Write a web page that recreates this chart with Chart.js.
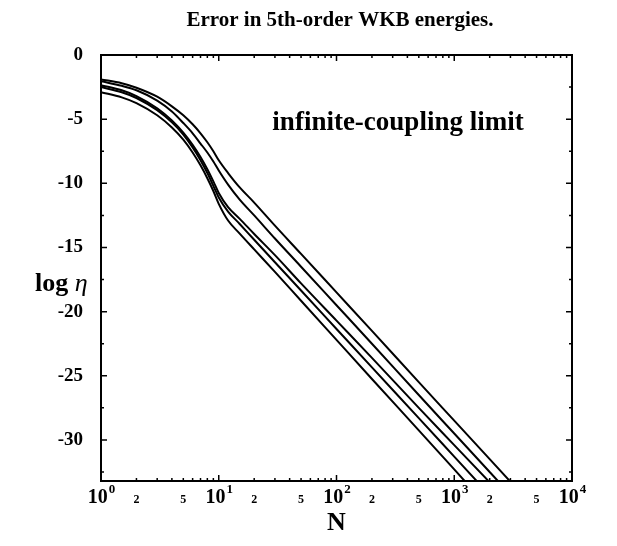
<!DOCTYPE html>
<html>
<head>
<meta charset="utf-8">
<script src="https://cdn.jsdelivr.net/npm/chart.js@4/dist/chart.umd.min.js"></script>
<style>
    html, body { margin: 0; padding: 0; background: #fff; }
</style>
</head>
<body>
<canvas id="wkbChart" width="617" height="546"></canvas>
<script>
// =========================
// DATA
// =========================
const nValues = [1, 1.5, 2, 3, 4, 5, 6, 7, 8, 9, 10, 12, 15, 20, 30, 50, 100, 200, 500, 1000, 2000, 4000];

const curveA = [-1.9, -2.2, -2.55, -3.25, -4.0, -4.7, -5.4, -6.1, -6.8, -7.5, -8.2, -9.2, -10.3, -11.5, -13.3, -15.5, -18.5, -21.5, -25.5, -28.5, -31.5, -34.5];
const curveB = [-2.05, -2.4, -2.75, -3.55, -4.4, -5.3, -6.1, -6.9, -7.6, -8.3, -9.0, -10.1, -11.25, -12.5, -14.3, -16.5, -19.5, -22.5, -26.5, -29.5, -32.5, -35.5];
const curveC = [-2.35, -2.75, -3.2, -4.15, -5.1, -6.05, -7.0, -7.95, -8.9, -9.85, -10.75, -11.85, -12.75, -13.95, -15.6, -17.8, -20.7, -23.6, -27.5, -30.4, -33.3, -36.2];
const curveD = [-2.5, -2.9, -3.35, -4.3, -5.25, -6.2, -7.2, -8.2, -9.2, -10.2, -11.1, -12.2, -13.15, -14.4, -16.15, -18.35, -21.35, -24.35, -28.3, -31.3, -34.3, -37.3];
const curveE = [-2.9, -3.3, -3.75, -4.7, -5.65, -6.6, -7.6, -8.6, -9.6, -10.6, -11.6, -12.9, -13.9, -15.15, -16.9, -19.15, -22.2, -25.25, -29.25, -32.3, -35.35, -38.4];

const xTickValues = [1, 2, 5, 10, 20, 50, 100, 200, 500, 1000, 2000, 5000, 10000];
const xTickLabels = ['10|0', '2', '5', '10|1', '2', '5', '10|2', '2', '5', '10|3', '2', '5', '10|4'];
const xMinorMultipliers = [2, 3, 4, 5, 6, 7, 8, 9];
const yTickValues = [0, -5, -10, -15, -20, -25, -30];
const yMinorValues = [-2.5, -7.5, -12.5, -17.5, -22.5, -27.5, -32.5];

const SERIF = "'Liberation Serif', 'DejaVu Serif', serif";

function toPoints(values) {
    return nValues.map(function (n, i) { return { x: n, y: values[i] }; });
}

// =========================
// DECORATIONS (frame, inward ticks, texts)
// =========================
const decorations = {
    id: 'decorations',
    afterDraw: function (chart) {
        const ctx = chart.ctx;
        const area = chart.chartArea;
        const xs = chart.scales.x;
        const ys = chart.scales.y;

        ctx.save();
        ctx.strokeStyle = '#000';
        ctx.fillStyle = '#000';

        // frame
        ctx.lineWidth = 2;
        ctx.strokeRect(area.left, area.top, area.right - area.left, area.bottom - area.top);

        // x ticks (bottom + top)
        ctx.lineWidth = 1.5;
        for (let p = 0; p < 4; p++) {
            const base = Math.pow(10, p);
            xMinorMultipliers.forEach(function (m) {
                const px = xs.getPixelForValue(base * m);
                ctx.beginPath();
                ctx.moveTo(px, area.bottom); ctx.lineTo(px, area.bottom - 3);
                ctx.moveTo(px, area.top); ctx.lineTo(px, area.top + 3);
                ctx.stroke();
            });
        }
        for (let p = 0; p <= 4; p++) {
            const px = xs.getPixelForValue(Math.pow(10, p));
            ctx.beginPath();
            ctx.moveTo(px, area.bottom); ctx.lineTo(px, area.bottom - 6);
            ctx.moveTo(px, area.top); ctx.lineTo(px, area.top + 6);
            ctx.stroke();
        }

        // y ticks (left + right)
        yTickValues.forEach(function (v) {
            const py = ys.getPixelForValue(v);
            ctx.beginPath();
            ctx.moveTo(area.left, py); ctx.lineTo(area.left + 6, py);
            ctx.moveTo(area.right, py); ctx.lineTo(area.right - 6, py);
            ctx.stroke();
        });
        yMinorValues.forEach(function (v) {
            const py = ys.getPixelForValue(v);
            ctx.beginPath();
            ctx.moveTo(area.left, py); ctx.lineTo(area.left + 3, py);
            ctx.moveTo(area.right, py); ctx.lineTo(area.right - 3, py);
            ctx.stroke();
        });

        // x tick labels, with superscripts
        ctx.textBaseline = 'alphabetic';
        const labelBase = area.bottom + 22;
        xTickValues.forEach(function (v, i) {
            const px = xs.getPixelForValue(v);
            const parts = xTickLabels[i].split('|');
            if (parts.length === 2) {
                ctx.font = 'bold 20px ' + SERIF;
                const wMain = ctx.measureText(parts[0]).width;
                ctx.font = 'bold 13px ' + SERIF;
                const wSup = ctx.measureText(parts[1]).width;
                const start = px - (wMain + wSup) / 2;
                ctx.textAlign = 'left';
                ctx.font = 'bold 20px ' + SERIF;
                ctx.fillText(parts[0], start, labelBase);
                ctx.font = 'bold 13px ' + SERIF;
                ctx.fillText(parts[1], start + wMain + 1, labelBase - 10);
            } else {
                ctx.textAlign = 'center';
                ctx.font = 'bold 12px ' + SERIF;
                ctx.fillText(parts[0], px, labelBase);
            }
        });

        // title
        ctx.textAlign = 'center';
        ctx.font = 'bold 21px ' + SERIF;
        ctx.fillText('Error in 5th-order WKB energies.', 340, 26);

        // annotation
        ctx.font = 'bold 27px ' + SERIF;
        ctx.fillText('infinite-coupling limit', 398, 130);

        // x axis title
        ctx.font = 'bold 26px ' + SERIF;
        ctx.fillText('N', (area.left + area.right) / 2, 530);

        // y axis title
        ctx.textAlign = 'left';
        ctx.font = 'bold 26px ' + SERIF;
        ctx.fillText('log ', 35, 291);
        const wLog = ctx.measureText('log ').width;
        ctx.font = 'italic 26px ' + SERIF;
        ctx.fillText('\u03b7', 35 + wLog, 291);

        ctx.restore();
    }
};

// =========================
// CHART
// =========================
const allCurves = [curveA, curveB, curveC, curveD, curveE];

new Chart(document.getElementById('wkbChart'), {
    type: 'line',
    data: {
        datasets: allCurves.map(function (c) {
            return {
                data: toPoints(c),
                borderColor: '#000',
                borderWidth: 2,
                pointRadius: 0,
                fill: false,
                cubicInterpolationMode: 'monotone'
            };
        })
    },
    options: {
        responsive: false,
        animation: false,
        layout: { padding: { top: 55, right: 45, left: 0, bottom: 0 } },
        plugins: {
            legend: { display: false },
            title: { display: false },
            tooltip: { enabled: false }
        },
        scales: {
            x: {
                type: 'logarithmic',
                min: 1,
                max: 10000,
                grid: { display: false },
                border: { display: false },
                ticks: { display: false },
                afterFit: function (s) { s.height = 65; }
            },
            y: {
                type: 'linear',
                min: -33.2,
                max: 0,
                grid: { display: false, drawTicks: false },
                border: { display: false },
                afterBuildTicks: function (s) {
                    s.ticks = yTickValues.map(function (v) { return { value: v }; });
                },
                ticks: {
                    padding: 18,
                    color: '#000',
                    font: { family: SERIF, size: 19, weight: 'bold' },
                    callback: function (v) { return String(v); }
                },
                afterFit: function (s) { s.width = 101; }
            }
        }
    },
    plugins: [decorations]
});
</script>
</body>
</html>
